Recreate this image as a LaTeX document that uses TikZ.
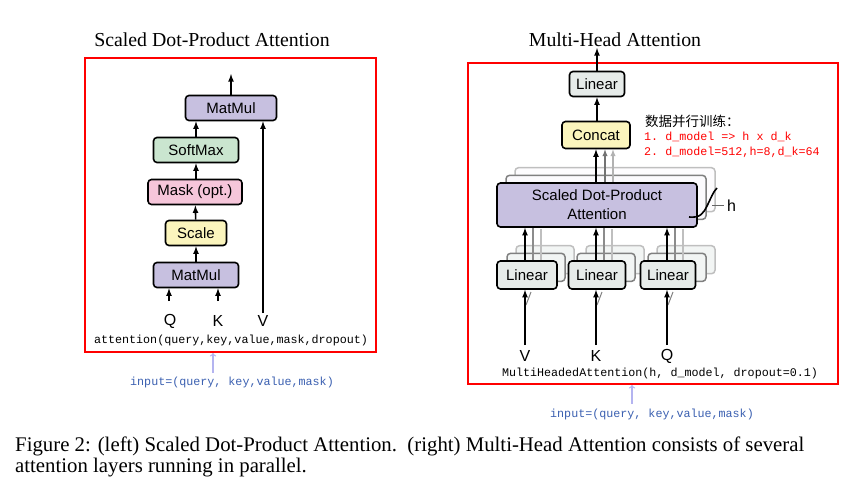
\documentclass[tikz,border=0pt]{standalone}
\usepackage{fontspec}
\setmainfont{Liberation Serif}
\setsansfont{Liberation Sans}
\setmonofont{Liberation Mono}
\newfontfamily\cjk{Noto Sans CJK SC}
\begin{document}
\begin{tikzpicture}[x=1pt,y=-1pt,
  blk/.style={draw=black,line width=1.6pt,rounded corners=3.5pt,minimum height=25pt,font=\sffamily\fontsize{15}{15}\selectfont,inner sep=0pt},
  arr/.style={->,>=latex,line width=1.6pt},
  mono/.style={font=\ttfamily\fontsize{11.7}{12}\selectfont,inner sep=0pt},
  red box/.style={draw=red,line width=1.4pt}]
\definecolor{purp}{HTML}{C7C0E0}
\definecolor{pinkc}{HTML}{F6C6DA}
\definecolor{yel}{HTML}{FBF5BD}
\definecolor{grn}{HTML}{CAE5CF}
\definecolor{gry}{HTML}{E6EBE9}
\definecolor{inblue}{HTML}{3A5FB0}
\definecolor{lav}{HTML}{B4B4F0}
\useasboundingbox (0,0) rectangle (867,485);
% ---------- left ----------
\node[font=\fontsize{19.8}{20}\selectfont] (tl) at (212,40) {Scaled Dot-Product Attention};
\draw[red box] (85,58) rectangle (376,352);
\node[blk,fill=purp,minimum width=91pt] (mm2) at (231,108) {MatMul};
\node[blk,fill=grn,minimum width=85pt] (sm) at (196,150) {SoftMax};
\node[blk,fill=pinkc,minimum width=94pt] (mk) at (195,192) {Mask (opt.)};
\node[blk,fill=yel,minimum width=61pt] (sc) at (196,233) {Scale};
\node[blk,fill=purp,minimum width=85pt] (mm1) at (196,275) {MatMul};
\coordinate (out1) at (231,74);
\draw[arr] (mm2) -- (out1);
\draw[arr] (sm.north -| 196,0) -- (mm2.south -| 196,0);
\draw[arr] (mk.north -| 196,0) -- (sm.south -| 196,0);
\draw[arr] (sc) -- (mk);
\draw[arr] (mm1) -- (sc);
\node[font=\sffamily\fontsize{16}{16}\selectfont] (q) at (170,321) {Q};
\node[font=\sffamily\fontsize{16}{16}\selectfont] (k) at (218,321) {K};
\node[font=\sffamily\fontsize{16}{16}\selectfont] (v) at (263,321) {V};
\coordinate (qs) at (169,301); \coordinate (ks) at (218,301); \coordinate (vs) at (263,313);
\draw[arr] (qs) -- (mm1.south -| qs);
\draw[arr] (ks) -- (mm1.south -| ks);
\draw[arr] (vs) -- (mm2.south -| vs);
\node[mono] (att) at (231,340) {attention(query,key,value,mask,dropout)};
\node[mono,text=inblue] (in1) at (232,382) {input=(query, key,value,mask)};
\coordinate (a1s) at (213,373); \coordinate (a1e) at (213,353);
\draw[->,draw=lav,line width=1.3pt] (a1s) -- (a1e);
% ---------- right ----------
\node[font=\fontsize{19.8}{20}\selectfont] (tr) at (615,40) {Multi-Head Attention};
\draw[red box] (468,63) rectangle (838,384);
% ghosts
\foreach \d/\g/\f in {18/25/4,9/50/8}{
  \draw[draw=black!\g,line width=1.5pt,rounded corners=3.5pt,fill=purp!\f] (497+\d,183-\d*0.85) rectangle (697+\d,227-\d*0.85);
  \foreach \cx in {527,597,668}{
    \draw[draw=black!\g,line width=1.5pt,rounded corners=3.5pt,fill=gry!50] (\cx-29+\d,261-\d*0.85) rectangle (\cx+29+\d,289-\d*0.85);
  }
}
\node[blk,fill=purp,minimum width=200pt,minimum height=44pt,align=center,font=\sffamily\fontsize{15}{19}\selectfont] (sdpa) at (597,205) {Scaled Dot-Product\\Attention};
\node[blk,fill=gry,minimum width=60pt,minimum height=28pt] (l1) at (527,275) {Linear};
\node[blk,fill=gry,minimum width=57pt,minimum height=28pt] (l2) at (597,275) {Linear};
\node[blk,fill=gry,minimum width=55pt,minimum height=28pt] (l3) at (668,275) {Linear};
\node[blk,fill=yel,minimum width=68pt,minimum height=27pt] (cc) at (596,135) {Concat};
\node[blk,fill=gry,minimum width=55pt] (lt) at (597,84) {Linear};
\coordinate (out2) at (597,48);
\draw[arr] (lt) -- (out2);
\draw[arr] (cc.north -| lt.south) -- (lt);
\draw[->,>=latex,line width=1.3pt,black!55] (sdpa.north -| 605,0) -- (cc.south -| 605,0);
\draw[->,>=latex,line width=1.3pt,black!30] (sdpa.north -| 613,0) -- (cc.south -| 613,0);
\draw[arr] (sdpa.north -| 596,0) -- (cc.south -| 596,0);
\foreach \n/\cx in {l1/525,l2/596,l3/667}{
  \draw[line width=1.3pt,black!45] (\n.north -| \cx+8,0) -- (sdpa.south -| \cx+8,0);
  \draw[line width=1.3pt,black!25] (\n.north -| \cx+16,0) -- ([yshift=-1pt]sdpa.south -| \cx+16,0);
  \draw[arr] (\n.north -| \cx,0) -- (sdpa.south -| \cx,0);
}
\node[font=\sffamily\fontsize{16}{16}\selectfont] (vv) at (525,356) {V};
\node[font=\sffamily\fontsize{16}{16}\selectfont] (kk) at (596,356) {K};
\node[font=\sffamily\fontsize{16}{16}\selectfont] (qq) at (667,356) {Q};
\foreach \n/\cx in {l1/525,l2/596,l3/667}{
  \coordinate (s\n) at (\cx,345);
  \draw[line width=1pt,black!50] (\cx+1,305) -- (\cx+6,292);
  \draw[arr] (s\n) -- (\n.south -| s\n);
}
% h bracket
\draw[line width=1.6pt] (689,217) .. controls (700,218) and (703,214) .. (707,206) .. controls (711,198) and (713,192) .. (717,188);
\draw[line width=1pt,black!60] (712,205) -- (724,205);
\node[font=\sffamily\fontsize{16}{16}\selectfont,anchor=west,inner sep=0pt] (hh) at (727,206) {h};
\node[anchor=west,inner sep=0pt,font=\cjk\fontsize{13.5}{14}\selectfont] (zh) at (645,121) {数据并行训练：};
\node[mono,anchor=west,text=red] (r1) at (644,137) {1. d\_model => h x d\_k};
\node[mono,anchor=west,text=red] (r2) at (644,152) {2. d\_model=512,h=8,d\_k=64};
\node[mono] (mha) at (660,373) {MultiHeadedAttention(h, d\_model, dropout=0.1)};
\node[mono,text=inblue] (in2) at (652,414) {input=(query, key,value,mask)};
\coordinate (a2s) at (632,404); \coordinate (a2e) at (632,385);
\draw[->,draw=lav,line width=1.3pt] (a2s) -- (a2e);
% caption
\node[anchor=west,inner sep=0pt,font=\fontsize{20.8}{21}\selectfont,align=left] (cap) at (15,457) {Figure 2: (left) Scaled Dot-Product Attention.\ \ (right) Multi-Head Attention consists of several\\attention layers running in parallel.};
\end{tikzpicture}
\end{document}
